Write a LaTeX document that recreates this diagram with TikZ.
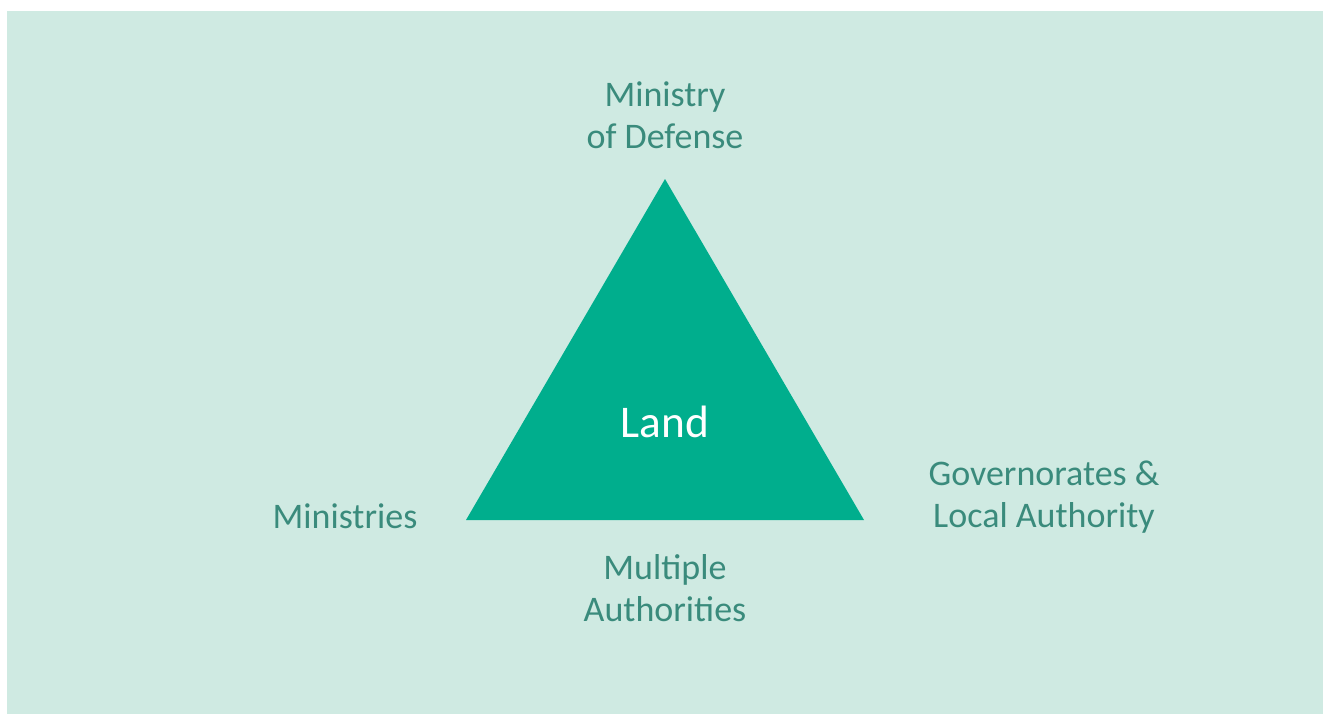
\documentclass[tikz,border=0pt]{standalone}
\usepackage{fontspec}
\setmainfont{Carlito}
\usepackage{xcolor}
\usetikzlibrary{calc}

\definecolor{mintbg}{RGB}{207,234,226}
\definecolor{landgreen}{RGB}{0,174,141}
\definecolor{labelgreen}{RGB}{58,139,124}

\tikzset{
  label text/.style={text=labelgreen, font=\fontsize{27}{31.5}\selectfont, align=center, inner sep=0pt},
  land text/.style={text=white, font=\fontsize{34}{40}\selectfont, inner sep=0pt}
}

\begin{document}
\begin{tikzpicture}[x=0.75pt,y=-0.75pt]
\useasboundingbox (0,0) rectangle (1330,714);
\fill[mintbg] (7,11) rectangle (1323,714);
% triangle corners
\coordinate (top) at (665,179);
\coordinate (left) at (466,520);
\coordinate (right) at (864,520);
\fill[landgreen] (top) -- (left) -- (right) -- cycle;
\node[land text, anchor=base] (land) at (665,437) {Land};
% labels round the triangle
\node[label text] (mod) at (665,115) {Ministry\\of Defense};
\node[label text, anchor=base] (min) at (345,528) {Ministries};
\node[label text] (gov) at (1044,497) {Governorates \&\\Local Authority};
\node[label text] (mult) at (665,588) {Multiple\\Authorities};
\end{tikzpicture}
\end{document}
